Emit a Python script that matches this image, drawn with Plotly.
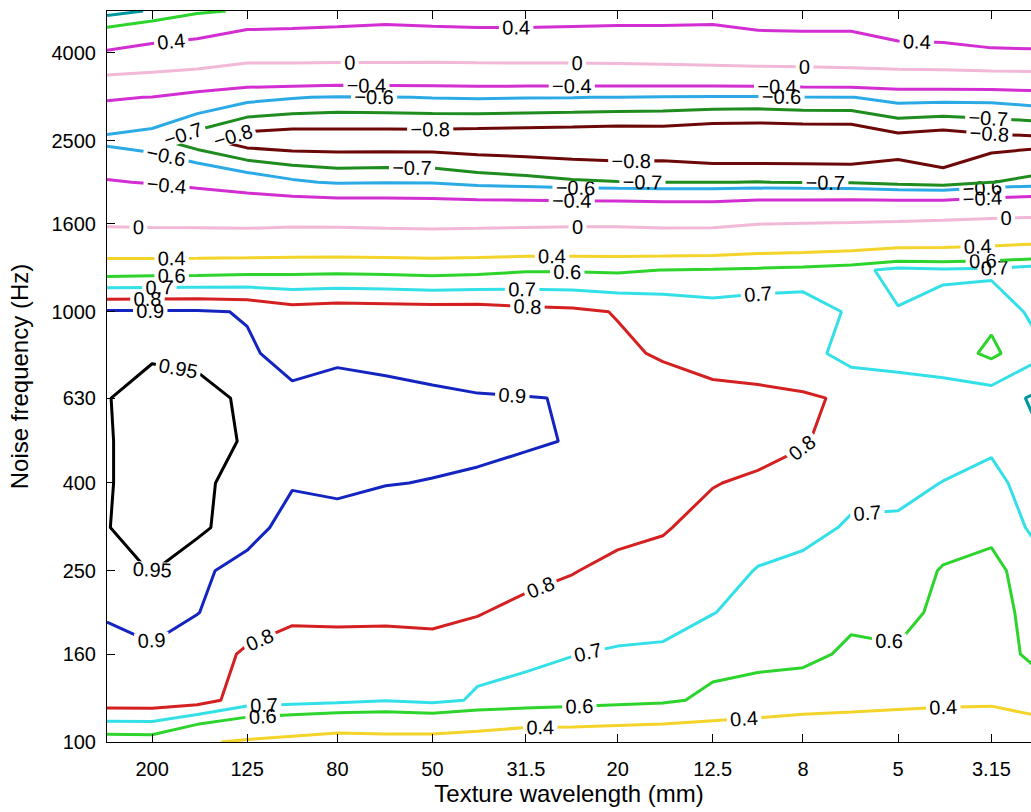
import math
import plotly.graph_objects as go

# ---------------- data ----------------
wavelength_mm = [250, 200, 160, 125, 100, 80, 63, 50, 40, 31.5, 25, 20, 16, 12.5,
                 10, 8, 6.3, 5, 4, 3.15, 2.5]
frequency_hz = [100, 125, 160, 200, 250, 315, 400, 500, 630, 800, 1000, 1250,
                1600, 2000, 2500, 3150, 4000, 5000]

x_tick_vals = [200, 125, 80, 50, 31.5, 20, 12.5, 8, 5, 3.15]
x_tick_text = ["200", "125", "80", "50", "31.5", "20", "12.5", "8", "5", "3.15"]
y_tick_vals = [100, 160, 250, 400, 630, 1000, 1600, 2500, 4000]
y_tick_text = ["100", "160", "250", "400", "630", "1000", "1600", "2500", "4000"]

# correlation coefficient, one list per noise-frequency band (columns follow wavelength_mm)
corr_100 = [.54, .545, .42, .378, .346, .31, .328, .323, .30, .25, .255, .242, .23, .222, .20, .164, .167, .15, .17, .216, .208]
corr_125 = [.86, .86, .845, .75, .736, .724, .703, .723, .69, .68, .661, .642, .625, .57, .545, .52, .49, .47, .445, .43, .513]
corr_160 = [.88, .89, .86, .7835, .714, .725, .717, .731, .723, .7125, .702, .688, .675, .646, .636, .633, .578, .593, .56, .53, .643]
corr_200 = [.906, .926, .902, .86, .84, .84, .84, .845, .808, .76, .75, .75, .758, .7026, .67, .65, .625, .62, .585, .55, .65]
corr_250 = [.93, .952, .905, .891, .87, .86, .855, .86, .84, .846, .805, .77, .77, .74, .695, .67, .65, .655, .592, .571, .661]
corr_315 = [.948, .975, .965, .91, .89, .882, .87, .87, .865, .87, .85, .832, .807, .77, .743, .734, .687, .679, .65, .625, .728]
corr_400 = [.944, .985, .965, .924, .902, .91, .902, .898, .89, .885, .875, .85, .83, .804, .785, .77, .73, .735, .697, .68, .736]
corr_500 = [.944, .985, .97, .945, .92, .925, .925, .915, .916, .905, .8978, .86, .845, .83, .835, .806, .766, .77, .76, .713, .79]
corr_630 = [.948, .97, .96, .945, .915, .915, .91, .905, .905, .902, .8976, .85, .844, .83, .82, .81, .789, .748, .741, .747, .82]
corr_800 = [.935, .944, .943, .91, .876, .893, .89, .888, .86, .85, .85, .817, .79, .758, .754, .739, .66, .665, .651, .58, .675]
corr_1000 = [.91, .91, .91, .8946, .847, .86, .855, .85, .85, .83, .82, .795, .772, .743, .756, .755, .686, .695, .673, .625, .734]
corr_1250 = [.544, .55, .554, .565, .57, .575, .57, .56, .57, .59, .59, .585, .601, .612, .625, .64, .67, .73, .715, .725, .755]
corr_1600 = [-.034, -.045, -.05, -.06, -.042, -.045, -.06, -.07, -.06, -.048, -.04, -.04, -.058, -.055, -.003, .01, .025, .045, .072, .103, .13]
corr_2000 = [-.383, -.414, -.46, -.52, -.58, -.615, -.606, -.61, -.645, -.665, -.686, -.697, -.702, -.702, -.698, -.705, -.71, -.74, -.76, -.702, -.672]
corr_2500 = [-.635, -.675, -.765, -.86, -.875, -.87, -.872, -.872, -.88, -.886, -.892, -.90, -.893, -.92, -.925, -.92, -.92, -.85, -.875, -.842, -.83]
corr_3150 = [-.38, -.405, -.50, -.565, -.593, -.61, -.605, -.596, -.59, -.595, -.598, -.603, -.61, -.615, -.618, -.607, -.603, -.56, -.565, -.565, -.54]
corr_4000 = [.38, .317, .29, .17, .18, .17, .17, .16, .17, .18, .18, .195, .21, .238, .267, .278, .305, .33, .351, .389, .395]
corr_5000 = [.74, .69, .62, .585, .56, .54, .51, .54, .55, .545, .53, .51, .50, .478, .515, .516, .49, .58, .55, .484, .45]

z = [corr_100, corr_125, corr_160, corr_200, corr_250, corr_315, corr_400, corr_500,
     corr_630, corr_800, corr_1000, corr_1250, corr_1600, corr_2000, corr_2500,
     corr_3150, corr_4000, corr_5000]

# ---------------- styling ----------------
FONT = "Liberation Sans, Arial, Helvetica, sans-serif"
NR, NC = len(frequency_hz), len(wavelength_mm)
# extra (empty, out-of-range) levels per trace only make plotly space labels more densely
LABEL_DENSITY_LEVELS = 60
LEVEL_STEP = 2.0

# (level, line colour, row index range, column index range)
line_styles = [
    (0.95, "#000000", (0, NR), (0, NC)),
    (0.9, "#1424c0", (0, NR), (0, NC)),
    (0.8, "#d42020", (0, NR), (0, 19)),
    (0.8, "#00969e", (0, NR), (18, NC)),
    (0.7, "#34e0e8", (0, 15), (0, NC)),
    (0.7, "#00969e", (14, NR), (0, NC)),
    (0.6, "#2cd42c", (0, NR), (0, NC)),
    (0.4, "#f4d42a", (0, 15), (0, NC)),
    (0.4, "#d22ed2", (14, NR), (0, NC)),
    (0.0, "#f2b8d8", (0, NR), (0, NC)),
    (-0.4, "#d22ed2", (0, NR), (0, NC)),
    (-0.6, "#2caae6", (0, NR), (0, NC)),
    (-0.7, "#1e8c1e", (0, NR), (0, NC)),
    (-0.8, "#6c0808", (0, NR), (0, NC)),
]

fig = go.Figure()
for level, color, (r0, r1), (c0, c1) in line_styles:
    fig.add_trace(go.Contour(
        x=wavelength_mm[c0:c1],
        y=frequency_hz[r0:r1],
        z=[row[c0:c1] for row in z[r0:r1]],
        autocontour=False,
        contours=dict(start=level,
                      end=level + LEVEL_STEP * (LABEL_DENSITY_LEVELS - 1),
                      size=LEVEL_STEP, coloring="none",
                      showlabels=True,
                      labelfont=dict(family=FONT, size=20, color="black")),
        line=dict(color=color, width=3, smoothing=0),
        showscale=False,
        hoverinfo="skip",
    ))

fig.update_layout(
    width=1031, height=812,
    margin=dict(l=107, r=0, t=11, b=70),
    paper_bgcolor="white", plot_bgcolor="white",
    showlegend=False,
    font=dict(family=FONT, size=20, color="black"),
)
fig.update_xaxes(
    type="log",
    range=[math.log10(250), math.log10(2.59)],
    tickmode="array", tickvals=x_tick_vals, ticktext=x_tick_text,
    ticks="inside", ticklen=8, tickwidth=1, tickcolor="black",
    showline=True, linecolor="black", linewidth=1, mirror="ticks",
    showgrid=False, zeroline=False,
    ticklabelstandoff=9,
    tickfont=dict(size=20),
    title=dict(text="Texture wavelength (mm)", font=dict(size=24), standoff=2),
)
fig.update_yaxes(
    type="log",
    range=[math.log10(100), math.log10(5000)],
    tickmode="array", tickvals=y_tick_vals, ticktext=y_tick_text,
    ticks="inside", ticklen=8, tickwidth=1, tickcolor="black",
    showline=True, linecolor="black", linewidth=1, mirror=False,
    showgrid=False, zeroline=False,
    ticklabelstandoff=6,
    tickfont=dict(size=20),
    title=dict(text="Noise frequency (Hz)", font=dict(size=24), standoff=16),
)

fig.write_html("out.html")
